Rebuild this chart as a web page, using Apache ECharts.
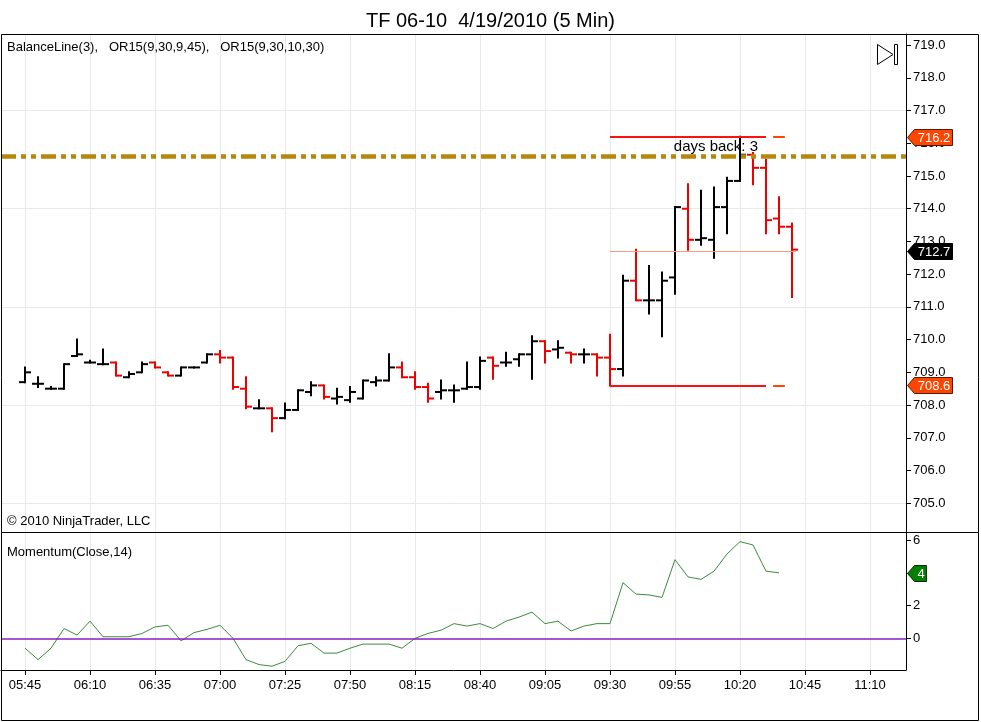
<!DOCTYPE html>
<html><head><meta charset="utf-8">
<script src="https://cdn.jsdelivr.net/npm/echarts@6/dist/echarts.min.js"></script>
<style>html,body{margin:0;padding:0;background:#fff}#c{width:981px;height:722px}</style>
</head><body><div id="c"></div>
<script>
// ---- data ----
const tickLabels = ['05:45','06:10','06:35','07:00','07:25','07:50','08:15','08:40','09:05','09:30','09:55','10:20','10:45','11:10'];
const opens  = [708.7,708.65,708.5,708.5,709.5,709.3,709.25,709.3,708.85,709.0,709.3,709.0,708.9,709.15,709.3,709.55,709.45,708.5,707.9,707.9,707.6,707.85,708.4,708.6,708.2,708.15,708.2,708.7,708.75,709.15,708.85,708.55,708.4,708.45,708.5,708.55,709.45,709.3,709.4,709.55,709.95,709.7,709.6,709.55,709.55,709.45,709.1,711.8,711.2,711.2,711.9,714.0,713.05,713.05,714.05,714.85,715.65,715.25,713.7,713.45];
const highs  = [709.15,708.85,708.55,709.25,710.0,709.35,709.7,709.3,709.0,709.3,709.3,709.0,709.15,709.15,709.55,709.65,709.45,708.85,708.15,707.9,708.05,708.45,708.7,708.6,708.5,708.55,708.75,708.85,709.55,709.3,709.0,708.65,708.75,708.6,709.3,709.45,709.45,709.6,709.55,710.1,709.95,709.95,709.6,709.7,709.55,710.15,711.95,712.75,712.25,712.05,714.05,714.75,714.55,714.65,714.95,716.2,715.7,715.5,714.35,713.55];
const lows   = [708.7,708.55,708.5,708.5,709.5,709.3,709.25,708.9,708.85,709.0,709.15,708.9,708.9,709.15,709.3,709.3,708.5,707.9,707.9,707.2,707.6,707.85,708.3,708.2,708.05,708.1,708.2,708.6,708.75,708.85,708.5,708.1,708.2,708.1,708.5,708.5,708.8,709.2,709.2,708.8,709.3,709.45,709.3,709.3,708.9,708.6,708.9,711.2,710.8,710.1,711.4,712.75,712.9,712.5,713.25,714.85,714.75,713.25,713.25,711.3];
const closes = [709.0,708.65,708.5,709.25,709.55,709.3,709.25,708.9,708.95,709.25,709.15,708.9,709.15,709.15,709.55,709.45,708.55,707.95,707.9,707.6,707.85,708.45,708.6,708.25,708.25,708.4,708.75,708.75,709.15,708.85,708.55,708.2,708.45,708.45,708.55,709.35,709.2,709.3,709.55,709.95,709.65,709.75,709.55,709.55,709.45,709.1,711.8,711.2,711.2,711.8,714.05,713.05,713.1,714.05,714.85,715.65,715.25,713.65,713.45,712.75];
const momentum = [-0.6,-1.3,-0.6,0.6,0.2,1.05,0.1,0.1,0.1,0.3,0.7,0.8,-0.15,0.35,0.55,0.8,0,-1.3,-1.6,-1.7,-1.4,-0.45,-0.3,-0.9,-0.9,-0.6,-0.35,-0.35,-0.35,-0.6,0,0.3,0.5,0.9,0.75,0.9,0.6,1.05,1.3,1.6,0.9,1.05,0.45,0.75,0.9,0.9,3.4,2.7,2.65,2.5,4.8,3.75,3.6,4.1,5.15,5.9,5.7,4.1,4.0,null];
const orHigh = 716.2, orLow = 708.6, orStartBar = 45, orEndBar = 57;
const balanceLine = 715.6;
const lastPrice = 712.7;
const lastMomentum = 4;
const daysBackLabel = 'days back: 3';

// ---- layout ----
const FONT = 'Arial, "Liberation Sans", sans-serif';
const X_MIN = -1.85, X_MAX = 67.77;
const P_MIN = 704.12, P_MAX = 719.34;
const M_MIN = -1.93, M_MAX = 6.49;
const RED = '#ee0000';

const ohlc = opens.map((o, i) => [i, o, highs[i], lows[i], closes[i]]);
const momData = momentum.map((v, i) => [i, v]);
const lastIdx = closes.length - 1;

function renderBar(params, api) {
  const i = api.value(0);
  const o = api.value(1), h = api.value(2), l = api.value(3), c = api.value(4);
  const po = api.coord([i, o]), ph = api.coord([i, h]), pl = api.coord([i, l]), pc = api.coord([i, c]);
  const x = Math.round(po[0]);
  const col = c < o ? RED : '#000';
  const st = { stroke: col, lineWidth: 2 };
  return { type: 'group', children: [
    { type: 'line', shape: { x1: x, y1: ph[1] - 1, x2: x, y2: pl[1] + 1 }, style: st },
    { type: 'line', shape: { x1: x - 6, y1: po[1], x2: x, y2: po[1] }, style: st },
    { type: 'line', shape: { x1: x, y1: pc[1], x2: x + 6, y2: pc[1] }, style: st }
  ]};
}

const priceMarkers = [
  { v: orHigh, fill: '#ff4500', stroke: '#5a1a00' },
  { v: lastPrice, fill: '#000000', stroke: '#000000' },
  { v: orLow, fill: '#ff4500', stroke: '#5a1a00' }
];
function makeMarker(w) {
  return function (params, api) {
    const v = api.value(1);
    const p = api.coord([X_MAX, v]);
    const x = p[0] + 1.5, y = Math.round(p[1]) + 0.5;
    const info = w.items[params.dataIndex];
    return { type: 'group', children: [
      { type: 'polygon', shape: { points: [[x, y], [x + 7, y - 8], [x + w.width, y - 8], [x + w.width, y + 8], [x + 7, y + 8]] },
        style: { fill: info.fill, stroke: info.stroke, lineWidth: 1 } },
      { type: 'text', x: x + 4 + w.width / 2, y: y + 0.5,
        style: { text: w.fmt(v), fill: '#fff', font: '13px ' + FONT, align: 'center', verticalAlign: 'middle' } }
    ]};
  };
}

const chart = echarts.init(document.getElementById('c'), null, { renderer: 'canvas' });
const option = {
  animation: false,
  backgroundColor: '#fff',
  title: { text: 'TF 06-10  4/19/2010 (5 Min)', left: 'center', top: 6,
    textStyle: { fontFamily: FONT, fontSize: 20, fontWeight: 'normal', color: '#000' } },
  grid: [
    { left: 1, top: 34, width: 905, height: 498 },
    { left: 1, top: 532, width: 905, height: 138 }
  ],
  xAxis: [
    { type: 'value', gridIndex: 0, min: X_MIN, max: X_MAX, splitNumber: 14,
      axisLine: { show: false }, axisTick: { show: false }, axisLabel: { show: false },
      splitLine: { show: true, lineStyle: { color: '#e9e9e9', width: 1 } } },
    { type: 'value', gridIndex: 1, min: X_MIN, max: X_MAX, splitNumber: 14,
      axisLine: { show: true, onZero: false, lineStyle: { color: '#000', width: 1 } },
      axisTick: { show: true, length: 5, lineStyle: { color: '#000' } },
      axisLabel: { show: true, showMinLabel: false, showMaxLabel: false, margin: 9, color: '#000', fontSize: 13, fontFamily: FONT,
        formatter: v => { const k = Math.round(v / 5); return Math.abs(v - k * 5) < 1e-6 && tickLabels[k] ? tickLabels[k] : ''; } },
      splitLine: { show: true, lineStyle: { color: '#e9e9e9', width: 1 } } }
  ],
  yAxis: [
    { type: 'value', gridIndex: 0, position: 'right', min: P_MIN, max: P_MAX, splitNumber: 15,
      axisLine: { show: true, onZero: false, lineStyle: { color: '#000', width: 1 } },
      axisTick: { show: true, length: 5, lineStyle: { color: '#000' } },
      axisLabel: { show: true, showMinLabel: false, showMaxLabel: false, margin: 7, color: '#000', fontSize: 13, fontFamily: FONT,
        formatter: v => Math.abs(v - Math.round(v)) < 1e-6 ? v.toFixed(1) : '' },
      splitLine: { show: false } },
    { type: 'value', gridIndex: 0, position: 'left', min: P_MIN, max: P_MAX, splitNumber: 5,
      axisLine: { show: false }, axisTick: { show: false }, axisLabel: { show: false },
      splitLine: { show: true, lineStyle: { color: '#e9e9e9', width: 1 } } },
    { type: 'value', gridIndex: 1, position: 'right', min: M_MIN, max: M_MAX, splitNumber: 4,
      axisLine: { show: true, onZero: false, lineStyle: { color: '#000', width: 1 } },
      axisTick: { show: true, length: 5, lineStyle: { color: '#000' } },
      axisLabel: { show: true, showMinLabel: false, showMaxLabel: false, margin: 7, color: '#000', fontSize: 13, fontFamily: FONT,
        formatter: v => Math.abs(v - Math.round(v)) < 1e-6 ? String(Math.round(v)) : '' },
      splitLine: { show: false } }
  ],
  series: [
    { type: 'line', name: 'levels', xAxisIndex: 0, yAxisIndex: 0, data: [], z: 2, silent: true,
      markLine: { symbol: 'none', silent: true, animation: false, label: { show: false },
        data: [
          { yAxis: balanceLine, lineStyle: { color: '#b8860b', width: 4.5, type: [15, 5, 5, 5, 5, 5] } },
          [{ coord: [orStartBar, lastPrice], lineStyle: { color: '#f4a07c', width: 1, type: 'solid' } }, { coord: [lastIdx + 0.3, lastPrice] }],
          [{ coord: [orStartBar, orHigh], lineStyle: { color: '#ff1010', width: 2, type: 'solid' },
             label: { show: true, formatter: daysBackLabel, position: 'insideEndBottom', distance: [8, 3], color: '#000', fontSize: 15, fontFamily: FONT } },
           { coord: [orEndBar, orHigh] }],
          [{ coord: [orStartBar, orLow], lineStyle: { color: '#ff1010', width: 2, type: 'solid' } }, { coord: [orEndBar, orLow] }],
          [{ coord: [orEndBar + 0.55, orHigh], lineStyle: { color: '#ff4500', width: 2, type: 'solid' } }, { coord: [orEndBar + 1.45, orHigh] }],
          [{ coord: [orEndBar + 0.55, orLow], lineStyle: { color: '#ff4500', width: 2, type: 'solid' } }, { coord: [orEndBar + 1.45, orLow] }]
        ] } },
    { type: 'custom', name: 'TF', xAxisIndex: 0, yAxisIndex: 0, z: 3, renderItem: renderBar, data: ohlc,
      encode: { x: 0, y: [1, 2, 3, 4] } },
    { type: 'line', name: 'Momentum', xAxisIndex: 1, yAxisIndex: 2, data: momData, z: 3,
      showSymbol: false, symbol: 'none', connectNulls: false,
      lineStyle: { color: '#3d8b3d', width: 1 },
      markLine: { symbol: 'none', silent: true, animation: false, label: { show: false },
        data: [{ yAxis: 0, lineStyle: { color: '#8a1cc0', width: 1.5, type: 'solid' } }] } },
    { type: 'custom', name: 'priceMarkers', xAxisIndex: 0, yAxisIndex: 0, z: 10, clip: false,
      renderItem: makeMarker({ items: priceMarkers, width: 45, fmt: v => v.toFixed(1) }),
      data: priceMarkers.map(m => [X_MAX, m.v]) },
    { type: 'custom', name: 'momMarker', xAxisIndex: 1, yAxisIndex: 2, z: 10, clip: false,
      renderItem: makeMarker({ items: [{ fill: '#008000', stroke: '#003300' }], width: 19, fmt: v => String(Math.round(v)) }),
      data: [[X_MAX, lastMomentum]] }
  ],
  graphic: [
    { type: 'rect', shape: { x: 1.5, y: 34.5, width: 977, height: 686 }, style: { fill: 'none', stroke: '#000', lineWidth: 1 }, z: 100, silent: true },
    { type: 'line', shape: { x1: 1, y1: 532.5, x2: 979, y2: 532.5 }, style: { stroke: '#000', lineWidth: 1 }, z: 100, silent: true },
    { type: 'text', x: 7, y: 47, z: 100, style: { text: 'BalanceLine(3),   OR15(9,30,9,45),   OR15(9,30,10,30)', fill: '#000', font: '13px ' + FONT, verticalAlign: 'middle' } },
    { type: 'text', x: 7, y: 521, z: 100, style: { text: '\u00a9 2010 NinjaTrader, LLC', fill: '#000', font: '13px ' + FONT, verticalAlign: 'middle' } },
    { type: 'text', x: 7, y: 552, z: 100, style: { text: 'Momentum(Close,14)', fill: '#000', font: '13px ' + FONT, verticalAlign: 'middle' } },
    { type: 'polygon', shape: { points: [[877.5, 44.5], [877.5, 64.5], [893, 54.5]] }, style: { fill: '#fff', stroke: '#000', lineWidth: 1 }, z: 100 },
    { type: 'rect', shape: { x: 894.5, y: 44.5, width: 3, height: 20 }, style: { fill: '#fff', stroke: '#000', lineWidth: 1 }, z: 100 }
  ]
};
chart.setOption(option);
</script>
</body></html>
